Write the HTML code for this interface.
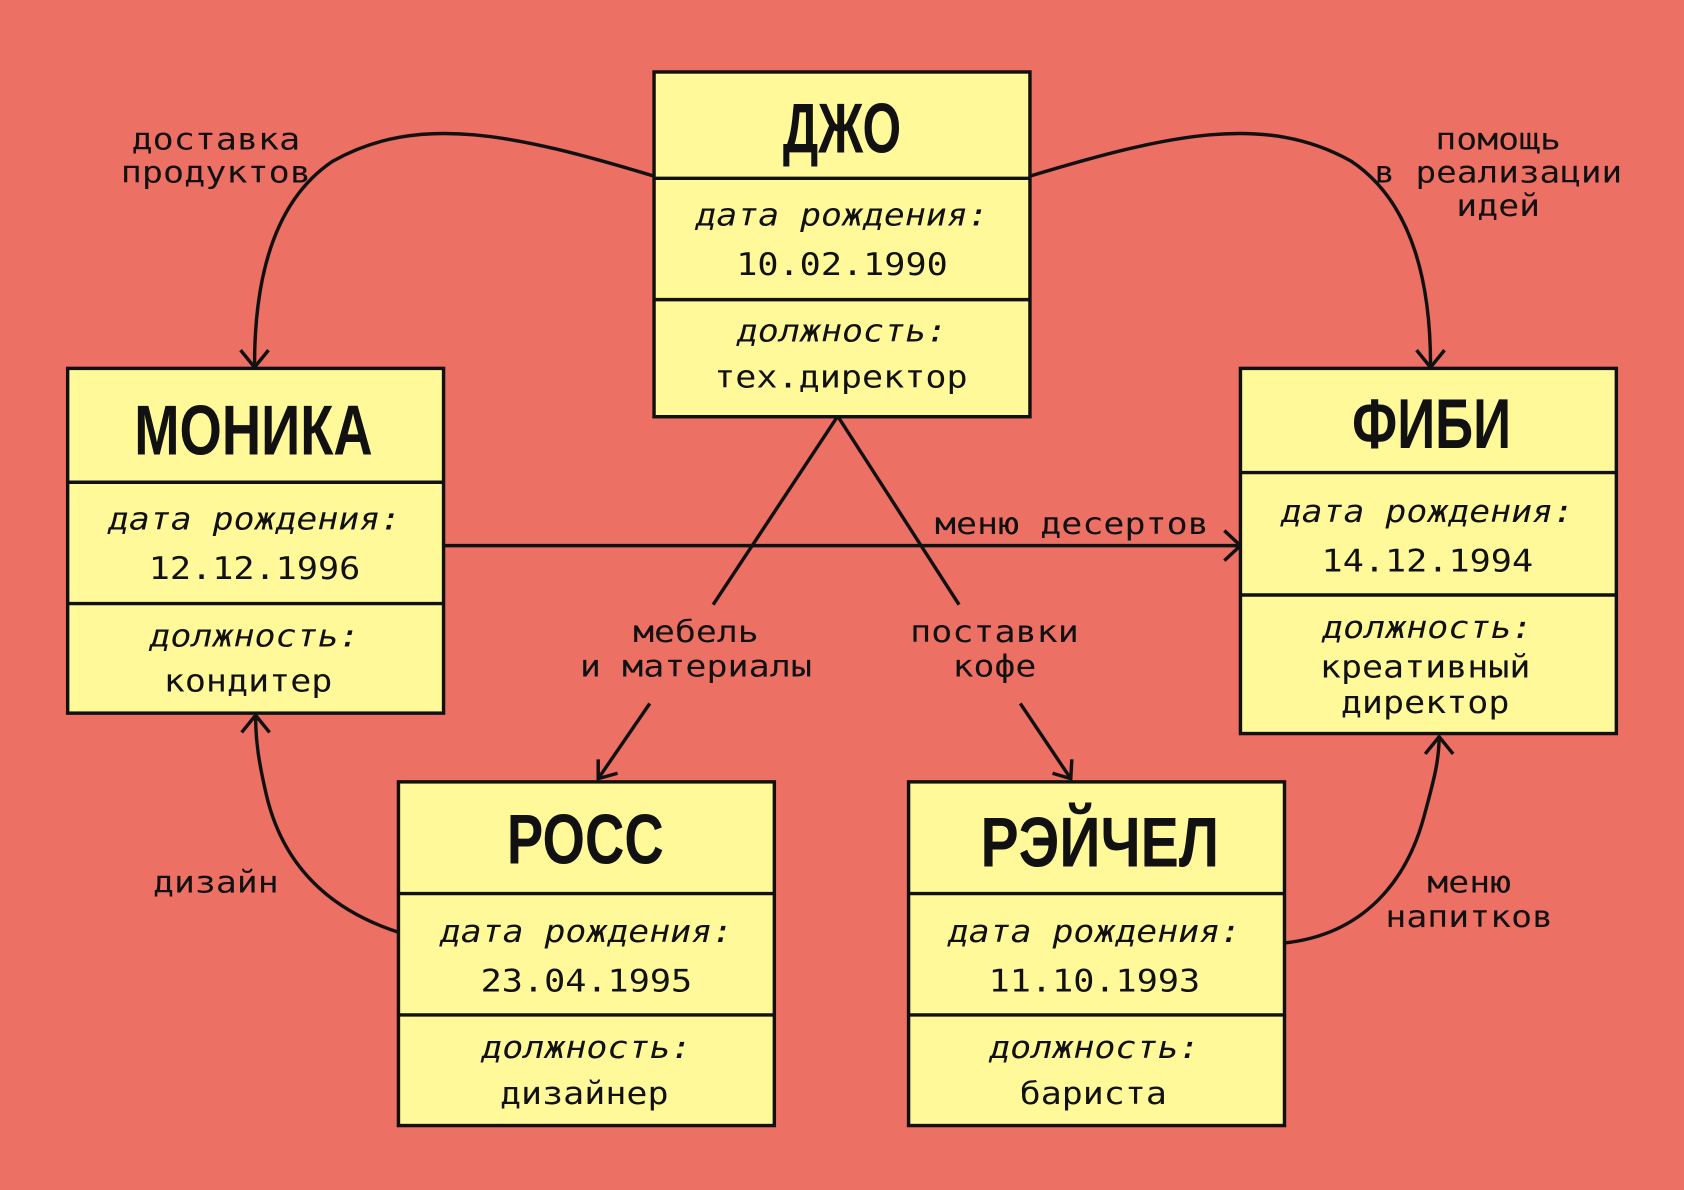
<!DOCTYPE html>
<html><head><meta charset="utf-8"><style>
html,body{margin:0;padding:0;background:#EC7063;}
svg{display:block}
.t{font-family:"Liberation Sans Narrow","Liberation Sans","DejaVu Sans Condensed",sans-serif;font-weight:bold;font-size:66px;text-anchor:middle;fill:#111}
.i{font-family:"DejaVu Sans Mono","Liberation Mono",monospace;font-style:italic;font-size:29px;text-anchor:middle;fill:#111}
.n{font-family:"DejaVu Sans Mono","Liberation Mono",monospace;font-size:29px;text-anchor:middle;fill:#111}
.l{font-family:"DejaVu Sans Mono","Liberation Mono",monospace;font-size:28px;text-anchor:middle;fill:#111}
</style></head><body>
<svg width="1684" height="1190" viewBox="0 0 1568 1108" xmlns="http://www.w3.org/2000/svg">
<rect width="1568" height="1108" fill="#EC7063"/>
<g fill="none" stroke="#111" stroke-width="3.2">
<path d="M609,164 C480,125 390,105 310,150 C250,190 237,270 237,340"/>
<path d="M224,326 L237,342 L250,326"/>
<path d="M959,164 C1088,125 1178,105 1258,150 C1318,190 1332,270 1332,340"/>
<path d="M1319,326 L1332,342 L1345,326"/>
<path d="M413,508 L1153,508"/>
<path d="M1140,494 L1155,508 L1140,522"/>
<path d="M779,389 L664,563"/>
<path d="M605,655 L557,725"/>
<path d="M557,707 L557,725 L575,720"/>
<path d="M781,389 L893,563"/>
<path d="M950,655 L997,725"/>
<path d="M980,720 L997,725 L998,707"/>
<path d="M371,868 C300,845 262,800 248,740 C241,710 238,690 238,667"/>
<path d="M225,682 L238,666 L251,682"/>
<path d="M1196,878 C1270,870 1310,820 1326,760 C1334,730 1340,710 1340,686"/>
<path d="M1327,702 L1340,686 L1353,702"/>
</g>
<g fill="#FFF99A" stroke="#111" stroke-width="3.2">
<rect x="609" y="67" width="350" height="321"/>
<rect x="63" y="343" width="350" height="321"/>
<rect x="1155" y="343" width="350" height="340"/>
<rect x="371" y="728" width="350" height="320"/>
<rect x="846" y="728" width="350" height="320"/>
<path d="M609,166H959M609,279H959M63,449H413M63,562H413M1155,440H1505M1155,554H1505M371,832H721M371,945H721M846,832H1196M846,945H1196"/>
</g>
<text class="t" x="784" y="142" textLength="110" lengthAdjust="spacingAndGlyphs">ДЖО</text>
<text class="i" x="784" y="210" textLength="273" lengthAdjust="spacingAndGlyphs">дата рождения:</text>
<text class="n" x="784" y="256" textLength="197" lengthAdjust="spacingAndGlyphs">10.02.1990</text>
<text class="i" x="784" y="318" textLength="196" lengthAdjust="spacingAndGlyphs">должность:</text>
<text class="n" x="783" y="361" textLength="236" lengthAdjust="spacingAndGlyphs">тех.директор</text>

<text class="t" x="236" y="423" textLength="222" lengthAdjust="spacingAndGlyphs">МОНИКА</text>
<text class="i" x="237" y="493" textLength="273" lengthAdjust="spacingAndGlyphs">дата рождения:</text>
<text class="n" x="237" y="539" textLength="197" lengthAdjust="spacingAndGlyphs">12.12.1996</text>
<text class="i" x="237" y="602" textLength="196" lengthAdjust="spacingAndGlyphs">должность:</text>
<text class="n" x="231" y="644" textLength="157" lengthAdjust="spacingAndGlyphs">кондитер</text>

<text class="t" x="1333" y="417" textLength="148" lengthAdjust="spacingAndGlyphs">ФИБИ</text>
<text class="i" x="1329" y="486" textLength="273" lengthAdjust="spacingAndGlyphs">дата рождения:</text>
<text class="n" x="1329" y="532" textLength="197" lengthAdjust="spacingAndGlyphs">14.12.1994</text>
<text class="i" x="1329" y="594" textLength="196" lengthAdjust="spacingAndGlyphs">должность:</text>
<text class="n" x="1327" y="631" textLength="196" lengthAdjust="spacingAndGlyphs">креативный</text>
<text class="n" x="1327" y="664" textLength="157" lengthAdjust="spacingAndGlyphs">директор</text>

<text class="t" x="545" y="804" textLength="146" lengthAdjust="spacingAndGlyphs">РОСС</text>
<text class="i" x="546" y="877" textLength="273" lengthAdjust="spacingAndGlyphs">дата рождения:</text>
<text class="n" x="546" y="923" textLength="197" lengthAdjust="spacingAndGlyphs">23.04.1995</text>
<text class="i" x="546" y="985" textLength="196" lengthAdjust="spacingAndGlyphs">должность:</text>
<text class="n" x="544" y="1028" textLength="157" lengthAdjust="spacingAndGlyphs">дизайнер</text>

<text class="t" x="1024" y="807" textLength="222" lengthAdjust="spacingAndGlyphs">РЭЙЧЕЛ</text>
<text class="i" x="1019" y="877" textLength="273" lengthAdjust="spacingAndGlyphs">дата рождения:</text>
<text class="n" x="1019" y="923" textLength="197" lengthAdjust="spacingAndGlyphs">11.10.1993</text>
<text class="i" x="1019" y="985" textLength="196" lengthAdjust="spacingAndGlyphs">должность:</text>
<text class="n" x="1018" y="1028" textLength="137" lengthAdjust="spacingAndGlyphs">бариста</text>

<text class="l" x="201" y="139" textLength="157" lengthAdjust="spacingAndGlyphs">доставка</text>
<text class="l" x="201" y="170" textLength="177" lengthAdjust="spacingAndGlyphs">продуктов</text>
<text class="l" x="1395" y="139" textLength="117" lengthAdjust="spacingAndGlyphs">помощь</text>
<text class="l" x="1395" y="170" textLength="231" lengthAdjust="spacingAndGlyphs">в реализации</text>
<text class="l" x="1395" y="201" textLength="78" lengthAdjust="spacingAndGlyphs">идей</text>
<text class="l" x="998" y="497" textLength="255" lengthAdjust="spacingAndGlyphs">меню десертов</text>
<text class="l" x="648" y="598" textLength="117" lengthAdjust="spacingAndGlyphs">мебель</text>
<text class="l" x="648" y="630" textLength="216" lengthAdjust="spacingAndGlyphs">и материалы</text>
<text class="l" x="926" y="598" textLength="157" lengthAdjust="spacingAndGlyphs">поставки</text>
<text class="l" x="926" y="630" textLength="78" lengthAdjust="spacingAndGlyphs">кофе</text>
<text class="l" x="201" y="831" textLength="117" lengthAdjust="spacingAndGlyphs">дизайн</text>
<text class="l" x="1368" y="831" textLength="78" lengthAdjust="spacingAndGlyphs">меню</text>
<text class="l" x="1368" y="863" textLength="156" lengthAdjust="spacingAndGlyphs">напитков</text>
</svg>
</body></html>
